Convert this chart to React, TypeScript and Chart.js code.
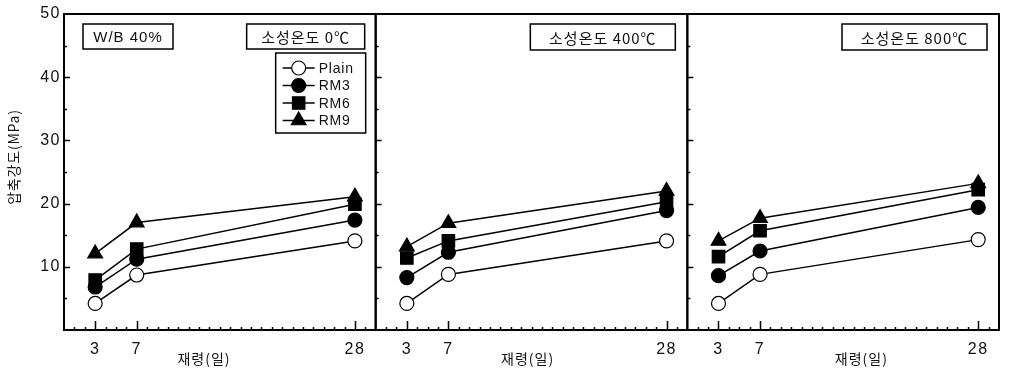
import React, { useEffect, useRef } from 'react';
import { Chart, registerables } from 'chart.js';

Chart.register(...registerables);

// ---- data ----
const days = [3, 7, 28];
const seriesNames = ['Plain', 'RM3', 'RM6', 'RM9'];
const panelLabels = ['소성온도 0℃', '소성온도 400℃', '소성온도 800℃'];
const wbLabel = 'W/B 40%';
const xTitle = '재령(일)';
const yTitle = '압축강도(MPa)';

// 소성온도 0℃
const plain0 = [4.2, 8.7, 14.1];
const rm3_0 = [6.8, 11.2, 17.4];
const rm6_0 = [7.9, 12.8, 19.9];
const rm9_0 = [12.1, 17.0, 21.1];
// 소성온도 400℃
const plain400 = [4.2, 8.8, 14.1];
const rm3_400 = [8.3, 12.3, 18.9];
const rm6_400 = [11.4, 14.1, 20.3];
const rm9_400 = [13.2, 16.9, 22.0];
// 소성온도 800℃
const plain800 = [4.2, 8.8, 14.3];
const rm3_800 = [8.6, 12.5, 19.4];
const rm6_800 = [11.6, 15.7, 22.2];
const rm9_800 = [14.1, 17.7, 23.2];

const panelSeries = [
  [plain0, rm3_0, rm6_0, rm9_0],
  [plain400, rm3_400, rm6_400, rm9_400],
  [plain800, rm3_800, rm6_800, rm9_800],
];

const xTickValues = [3, 7, 28];
const xMinorValues = [1, 2, 4, 5, 6, 8, 9, 10, 11, 12, 13, 14, 15, 16, 17, 18, 19, 20, 21, 22, 23, 24, 25, 26, 27, 29];
const yTickValues = [10, 20, 30, 40, 50];
const yMinorValues = [5, 15, 25, 35, 45];

// ---- styles ----
const markerStyles = [
  { pointStyle: 'circle', radius: 7, fill: '#ffffff' },
  { pointStyle: 'circle', radius: 7, fill: '#000000' },
  { pointStyle: 'rect', radius: 8.8, fill: '#000000' },
  { pointStyle: 'triangle', radius: 8.5, fill: '#000000' },
];

const LATIN = '"Liberation Sans", Arial, sans-serif';
const KR = '"Noto Sans CJK KR", "Noto Sans", sans-serif';

function drawBoxText(ctx: CanvasRenderingContext2D, text: string, x: number, y: number, w: number, h: number, font: string, spacing: string) {
  ctx.save();
  ctx.fillStyle = '#fff';
  ctx.fillRect(x, y, w, h);
  ctx.strokeStyle = '#000';
  ctx.lineWidth = 1.5;
  ctx.strokeRect(x, y, w, h);
  ctx.fillStyle = '#111';
  ctx.font = font;
  (ctx as any).letterSpacing = spacing;
  ctx.textAlign = 'center';
  ctx.textBaseline = 'middle';
  ctx.fillText(text, x + w / 2, y + h / 2 + 1);
  ctx.restore();
}

function drawMarker(ctx: CanvasRenderingContext2D, style: string, r: number, x: number, y: number, fill: string) {
  ctx.save();
  ctx.fillStyle = fill;
  ctx.strokeStyle = '#000';
  ctx.lineWidth = 1.2;
  ctx.beginPath();
  if (style === 'circle') {
    ctx.arc(x, y, r, 0, Math.PI * 2);
  } else if (style === 'rect') {
    const s = Math.SQRT1_2 * r;
    ctx.rect(x - s, y - s, 2 * s, 2 * s);
  } else {
    const a = (2 * Math.PI) / 3;
    ctx.moveTo(x, y - r);
    ctx.lineTo(x + Math.sin(a) * r, y - Math.cos(a) * r);
    ctx.lineTo(x + Math.sin(2 * a) * r, y - Math.cos(2 * a) * r);
    ctx.closePath();
  }
  ctx.fill();
  ctx.stroke();
  ctx.restore();
}

const overlayPlugin = {
  id: 'overlay',
  beforeDraw(chart: any) {
    (chart.ctx as any).letterSpacing = '1.5px';
  },
  beforeDatasetsDraw(chart: any) {
    const ctx: CanvasRenderingContext2D = chart.ctx;
    const { top, bottom } = chart.chartArea;
    const ys = chart.scales.y;
    ctx.save();
    ctx.strokeStyle = '#000';
    for (let p = 0; p < 3; p++) {
      const xs = chart.scales['x' + p];
      ctx.lineWidth = 1.5;
      ctx.beginPath();
      yTickValues.forEach((v) => {
        if (v >= 50) return;
        const py = Math.round(ys.getPixelForValue(v)) + 0.5;
        ctx.moveTo(xs.left, py);
        ctx.lineTo(xs.left + 6, py);
      });
      yMinorValues.forEach((v) => {
        const py = Math.round(ys.getPixelForValue(v)) + 0.5;
        ctx.moveTo(xs.left, py);
        ctx.lineTo(xs.left + 3, py);
      });
      xTickValues.forEach((v) => {
        const px = Math.round(xs.getPixelForValue(v)) + 0.5;
        ctx.moveTo(px, bottom);
        ctx.lineTo(px, bottom - 9);
      });
      xMinorValues.forEach((v) => {
        const px = Math.round(xs.getPixelForValue(v)) + 0.5;
        ctx.moveTo(px, bottom);
        ctx.lineTo(px, bottom - 3);
      });
      ctx.stroke();
      ctx.lineWidth = 2;
      ctx.strokeRect(xs.left, top, xs.right - xs.left, bottom - top);
    }
    ctx.restore();
  },
  afterDatasetsDraw(chart: any) {
    const ctx: CanvasRenderingContext2D = chart.ctx;
    const { top, bottom } = chart.chartArea;
    const p0 = chart.scales.x0;
    const p1 = chart.scales.x1;
    const p2 = chart.scales.x2;

    drawBoxText(ctx, wbLabel, p0.left + 19, top + 10, 90, 25, `15px ${LATIN}`, '1px');
    drawBoxText(ctx, panelLabels[0], p0.right - 129, top + 10, 118, 25, `15px ${KR}`, '1px');
    drawBoxText(ctx, panelLabels[1], p1.right - 157, top + 10, 145, 26, `15px ${KR}`, '1px');
    drawBoxText(ctx, panelLabels[2], p2.right - 157, top + 10, 145, 26, `15px ${KR}`, '1px');

    // legend
    const lx = p0.right - 100;
    const ly = top + 39;
    const lw = 90;
    const lh = 80;
    ctx.save();
    ctx.fillStyle = '#fff';
    ctx.fillRect(lx, ly, lw, lh);
    ctx.strokeStyle = '#000';
    ctx.lineWidth = 1.5;
    ctx.strokeRect(lx, ly, lw, lh);
    chart.data.datasets.slice(0, 4).forEach((ds: any, i: number) => {
      const ry = ly + 15 + i * 17.5;
      ctx.strokeStyle = '#000';
      ctx.lineWidth = 1.5;
      ctx.beginPath();
      ctx.moveTo(lx + 7, ry);
      ctx.lineTo(lx + 39, ry);
      ctx.stroke();
      drawMarker(ctx, ds.pointStyle, ds.pointRadius, lx + 23, ry, ds.pointBackgroundColor);
      ctx.fillStyle = '#111';
      ctx.font = `14px ${LATIN}`;
      (ctx as any).letterSpacing = '0.8px';
      ctx.textAlign = 'left';
      ctx.textBaseline = 'middle';
      ctx.fillText(ds.label, lx + 43, ry + 1);
    });
    ctx.restore();

    // axis titles
    ctx.save();
    ctx.fillStyle = '#111';
    ctx.font = `14px ${KR}`;
    (ctx as any).letterSpacing = '1px';
    ctx.textAlign = 'center';
    ctx.textBaseline = 'middle';
    const titleOffsets = [140, 152, 174];
    [p0, p1, p2].forEach((xs: any, i: number) => {
      ctx.fillText(xTitle, xs.left + titleOffsets[i], bottom + 29);
    });
    ctx.translate(14, 157);
    ctx.rotate(-Math.PI / 2);
    ctx.font = `14px ${KR}`;
    (ctx as any).letterSpacing = '0.8px';
    ctx.fillText(yTitle, 0, 0);
    ctx.restore();
  },
};

function makeXScale() {
  return {
    type: 'linear',
    position: 'bottom',
    stack: 'panels',
    stackWeight: 1,
    min: 0,
    max: 30,
    afterBuildTicks: (s: any) => {
      s.ticks = xTickValues.map((v) => ({ value: v }));
    },
    afterFit: (s: any) => {
      s.height = 38;
    },
    grid: { display: false, drawTicks: false },
    border: { display: false },
    ticks: {
      color: '#111',
      font: { family: 'Liberation Sans', size: 16 },
      padding: 10,
      maxRotation: 0,
      autoSkip: false,
    },
  };
}

export default function App() {
  const canvasRef = useRef<HTMLCanvasElement | null>(null);

  useEffect(() => {
    if (!canvasRef.current) return;
    const datasets: any[] = [];
    panelSeries.forEach((series, p) => {
      series.forEach((vals, s) => {
        const m = markerStyles[s];
        datasets.push({
          label: seriesNames[s],
          data: days.map((d, i) => ({ x: d, y: vals[i] })),
          xAxisID: 'x' + p,
          yAxisID: 'y',
          showLine: true,
          fill: false,
          borderColor: '#000',
          borderWidth: 1.5,
          pointStyle: m.pointStyle,
          pointRadius: m.radius,
          pointHoverRadius: m.radius,
          pointBackgroundColor: m.fill,
          pointBorderColor: '#000',
          pointBorderWidth: 1.2,
          clip: false,
        });
      });
    });

    const chart = new Chart(canvasRef.current, {
      type: 'line',
      data: { datasets },
      options: {
        animation: false,
        responsive: false,
        devicePixelRatio: 1,
        layout: { padding: { top: 14, right: 2, bottom: 0, left: 0 } },
        plugins: { legend: { display: false }, tooltip: { enabled: false } },
        scales: {
          x0: makeXScale(),
          x1: makeXScale(),
          x2: makeXScale(),
          y: {
            type: 'linear',
            position: 'left',
            min: 0,
            max: 50,
            afterBuildTicks: (s: any) => {
              s.ticks = yTickValues.map((v) => ({ value: v }));
            },
            afterFit: (s: any) => {
              s.width = 64;
            },
            grid: { display: false, drawTicks: false },
            border: { display: false },
            ticks: {
              color: '#111',
              font: { family: 'Liberation Sans', size: 16 },
              padding: 3,
            },
          },
        },
      } as any,
      plugins: [overlayPlugin as any],
    });
    return () => chart.destroy();
  }, []);

  return (
    <div style={{ position: 'absolute', left: 0, top: 0, width: 1009, height: 368, background: '#fff' }}>
      <canvas ref={canvasRef} width={1009} height={368} />
    </div>
  );
}
